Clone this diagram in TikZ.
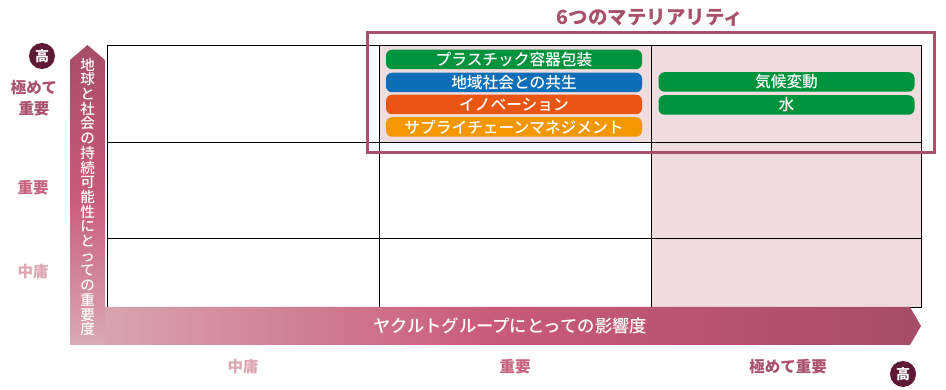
\documentclass[tikz,border=0pt]{standalone}
\usepackage{fontspec}
\setmainfont{Noto Sans CJK JP}
\newfontfamily\medfont{Noto Sans CJK JP Medium}
\definecolor{framec}{HTML}{A9506B}
\definecolor{cellpink}{HTML}{EEDCDF}
\definecolor{pgreen}{HTML}{00933E}
\definecolor{pblue}{HTML}{0A6EB8}
\definecolor{porange}{HTML}{E95614}
\definecolor{pamber}{HTML}{F39800}
\definecolor{darkc}{HTML}{5E1A35}
\definecolor{gdark}{HTML}{A64D69}
\definecolor{gmid}{HTML}{C95A7A}
\definecolor{glight}{HTML}{D9AAB4}
\definecolor{labA}{HTML}{A8506C}
\definecolor{labB}{HTML}{C6627F}
\definecolor{labC}{HTML}{DCA7B3}
\begin{document}
\begin{tikzpicture}[x=1pt,y=-1pt,
  pill/.style={rounded corners=6pt, fill=#1, text=white, minimum width=256pt,
    minimum height=19.5pt, inner sep=0pt, font=\fontsize{15.7}{15.7}\selectfont\medfont},
  lab/.style={text=#1, inner sep=0pt, align=center, font=\fontsize{15.5}{21}\selectfont\bfseries},
  high/.style={circle, fill=darkc, text=white, minimum size=26pt, inner sep=0pt,
    font=\fontsize{14}{14}\selectfont\bfseries},
  gridline/.style={line width=0.9pt, black}]
\useasboundingbox (0,0) rectangle (946,390);
% shaded cells
\fill[cellpink] (379,45) rectangle (651,142);
\fill[cellpink] (651,45) rectangle (921,307);
% grid
\draw[gridline] (107,45) rectangle (921,307);
\draw[gridline] (107,142) -- (921,142);
\draw[gridline] (107,238) -- (921,238);
\draw[gridline] (379,45) -- (379,307);
\draw[gridline] (651,45) -- (651,307);
% horizontal arrow
\shade[left color=glight, right color=gdark, middle color=gmid]
  (70,307) -- (910,307) -- (921,326) -- (910,345) -- (70,345) -- cycle;
% vertical arrow
\shade[top color=gdark, bottom color=glight, middle color=gmid]
  (87.5,45) -- (105,60) -- (105,345) -- (70,345) -- (70,60) -- cycle;
\node[text=white, inner sep=0pt, align=center, font=\fontsize{14.5}{14.7}\selectfont\medfont] (vtext) at (87.5,197)
  {地\\球\\と\\社\\会\\の\\持\\続\\可\\能\\性\\に\\と\\っ\\て\\の\\重\\要\\度};
\node[text=white, inner sep=0pt, font=\fontsize{17.3}{17.3}\selectfont\medfont] (htext) at (510,326)
  {ヤクルトグループにとっての影響度};
% frame and title
\draw[framec, line width=3pt] (367,33) rectangle (934,153);
\node[text=framec, inner sep=0pt, font=\fontsize{19.5}{19.5}\selectfont\bfseries] (title) at (650,18)
  {6つのマテリアリティ};
% pills
\node[pill=pgreen] (p1) at (514,59.5) {プラスチック容器包装};
\node[pill=pblue] (p2) at (514,82.5) {地域社会との共生};
\node[pill=porange] (p3) at (514,104.5) {イノベーション};
\node[pill=pamber] (p4) at (514,127) {サプライチェーンマネジメント};
\node[pill=pgreen] (p5) at (786.5,82) {気候変動};
\node[pill=pgreen] (p6) at (786.5,105) {水};
% left labels
\node[high] (hl) at (42,56) {高};
\node[lab=labA] (l1) at (34,98) {極めて\\重要};
\node[lab=labB] (l2) at (33,188) {重要};
\node[lab=labC] (l3) at (33,272) {中庸};
% bottom labels
\node[lab=labC] (b1) at (243,367) {中庸};
\node[lab=labB] (b2) at (515,367) {重要};
\node[lab=labA] (b3) at (788,367) {極めて重要};
\node[high] (hb) at (903,374) {高};
\end{tikzpicture}
\end{document}
